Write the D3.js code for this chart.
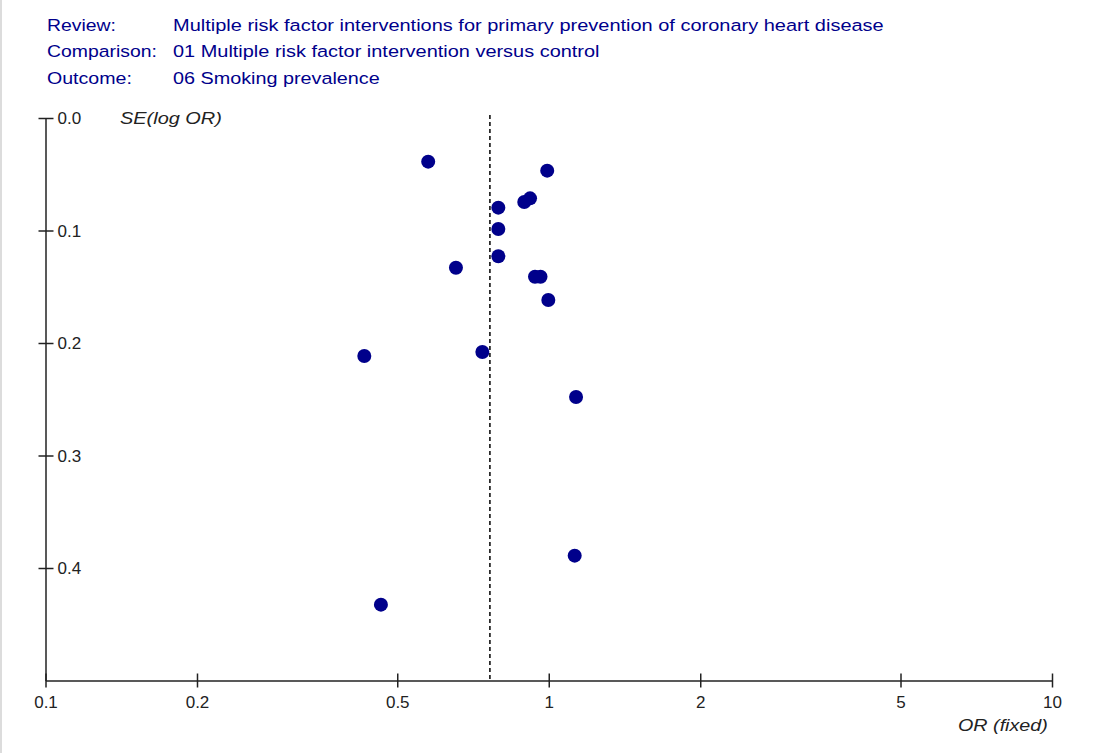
<!DOCTYPE html>
<html>
<head>
<meta charset="utf-8">
<script src="https://cdn.jsdelivr.net/npm/d3@7"></script>
<style>
  html, body { margin: 0; padding: 0; background: #fff; }
  svg { display: block; }
  text { font-family: "Liberation Sans", Arial, sans-serif; }
</style>
</head>
<body>
<svg id="chart" width="1096" height="753"></svg>
<script>
// Header lines
const headerKeys = ["Review:", "Comparison:", "Outcome:"];
const headerValues = [
  "Multiple risk factor interventions for primary prevention of coronary heart disease",
  "01 Multiple risk factor intervention versus control",
  "06 Smoking prevalence"
];

// Study estimates: odds ratio and standard error of log OR
const studyOR = [0.576, 0.993, 0.918, 0.894, 0.794, 0.794, 0.794, 0.654, 0.939, 0.963, 0.998, 0.430, 0.738, 1.133, 1.126, 0.464];
const studySE = [0.0388, 0.0468, 0.0714, 0.0747, 0.0797, 0.0987, 0.1229, 0.1331, 0.1411, 0.1411, 0.1618, 0.2116, 0.2080, 0.2480, 0.3890, 0.4326];

// Pooled fixed-effect OR
const pooledOR = 0.764;

// Axis ticks
const xTicks = [0.1, 0.2, 0.5, 1, 2, 5, 10];
const yTicks = [0.0, 0.1, 0.2, 0.3, 0.4];

const svg = d3.select("#chart");
const navy = "#00008b";
const ink = "#222";

// squeeze or stretch a text element horizontally to a given width, anchored at its own x
function fitWidth(sel, width) {
  sel.each(function () {
    const t = d3.select(this);
    const w = this.getComputedTextLength();
    const x0 = +t.attr("x") || 0;
    const s = width / w;
    t.attr("transform", `translate(${x0},0) scale(${s},1) translate(${-x0},0)`);
  });
}

// faint frame edge on the left
svg.append("line").attr("x1", 1).attr("x2", 1).attr("y1", 0).attr("y2", 753)
  .attr("stroke", "#dcdcdc").attr("stroke-width", 2);

// header block
const header = svg.append("g").attr("fill", navy).style("font-size", "17px");
const headerKeyWidths = [69, 110, 85];
const headerValWidths = [711, 427, 207];
headerKeys.forEach((k, i) => {
  const yb = 31 + i * 26.5;
  header.append("text").attr("x", 47).attr("y", yb).text(k)
    .call(fitWidth, headerKeyWidths[i]);
  header.append("text").attr("x", 173).attr("y", yb).text(headerValues[i])
    .call(fitWidth, headerValWidths[i]);
});

// scales
const x = d3.scaleLog().domain([0.1, 10]).range([45.5, 1052]);
const y = d3.scaleLinear().domain([0, 0.5]).range([118, 680.5]);

// x axis
const xAxis = svg.append("g").attr("transform", `translate(0,${y(0.5)})`)
  .call(d3.axisBottom(x).tickValues(xTicks).tickFormat(d3.format("")).tickSizeInner(7).tickSizeOuter(0));
xAxis.select(".domain").attr("stroke", ink).attr("stroke-width", 1.5);
xAxis.selectAll(".tick line").attr("stroke", ink).attr("stroke-width", 1.5).attr("y1", -7);
xAxis.selectAll(".tick text").attr("fill", ink).style("font-size", "17px")
  .attr("y", 27).attr("dy", "0");

// y axis with labels to the right of the line
const yAxis = svg.append("g").attr("transform", `translate(${x(0.1)},0)`)
  .call(d3.axisLeft(y).tickValues(yTicks).tickFormat(d3.format(".1f")).tickSizeInner(7).tickSizeOuter(0));
yAxis.select(".domain").attr("stroke", ink).attr("stroke-width", 1.5);
yAxis.selectAll(".tick line").attr("stroke", ink).attr("stroke-width", 1.5).attr("x1", 8);
yAxis.selectAll(".tick text").attr("fill", ink).style("font-size", "17px")
  .attr("text-anchor", "start").attr("x", 12).attr("dy", "0.35em");

// axis titles
svg.append("text").attr("x", 120).attr("y", 124).attr("fill", ink)
  .style("font-size", "17px").style("font-style", "italic").text("SE(log OR)")
  .call(fitWidth, 102);
svg.append("text").attr("x", 958).attr("y", 731).attr("fill", ink)
  .style("font-size", "17px").style("font-style", "italic").text("OR (fixed)")
  .call(fitWidth, 90);

// pooled estimate reference line
svg.append("line")
  .attr("x1", x(pooledOR)).attr("x2", x(pooledOR))
  .attr("y1", 115).attr("y2", y(0.5))
  .attr("stroke", "#000").attr("stroke-width", 1.5).attr("stroke-dasharray", "4,3");

// study points
svg.append("g").selectAll("circle")
  .data(studyOR.map((o, i) => ({ or: o, se: studySE[i] })))
  .join("circle")
  .attr("cx", d => x(d.or))
  .attr("cy", d => y(d.se))
  .attr("r", 7)
  .attr("fill", navy);
</script>
</body>
</html>
